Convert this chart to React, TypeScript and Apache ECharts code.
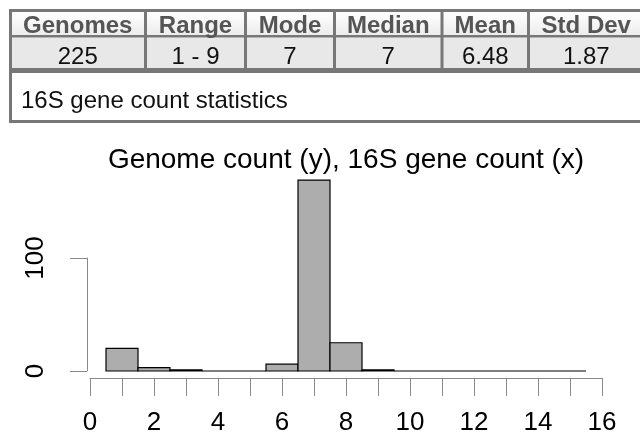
import React, { useEffect, useRef } from "react";
import * as echarts from "echarts";

const geneCounts = [1, 2, 3, 4, 5, 6, 7, 8, 9, 10, 11, 12, 13, 14, 15];
const genomeCounts = [20, 3, 1, 0, 0, 6, 169, 25, 1, 0, 0, 0, 0, 0, 0];
const tableHeaders = ["Genomes", "Range", "Mode", "Median", "Mean", "Std Dev"];
const tableValues = ["225", "1 - 9", "7", "7", "6.48", "1.87"];
const caption = "16S gene count statistics";
const chartTitle = "Genome count (y), 16S gene count (x)";

// column boundaries (px) for the stats table
const colEdges = [10, 145.5, 245.5, 334.5, 442, 528.5, 644];

const FONT = "'Liberation Sans', Arial, Helvetica, sans-serif";

export default function App() {
  const ref = useRef<HTMLDivElement>(null);
  useEffect(() => {
    document.body.style.margin = "0";
    const chart = echarts.init(ref.current!, null, { renderer: "svg" });
    const border = "#777777";
    const graphics: any[] = [];
    graphics.push({ type: "rect", shape: { x: 10.5, y: 10.5, width: 640, height: 111 }, style: { fill: "#ffffff", stroke: border, lineWidth: 3 }, z: 1 });
    graphics.push({ type: "rect", shape: { x: 12, y: 12, width: 640, height: 23 }, style: { fill: new echarts.graphic.LinearGradient(0, 0, 0, 1, [{ offset: 0, color: "#ffffff" }, { offset: 1, color: "#ececec" }]) }, z: 2 });
    graphics.push({ type: "rect", shape: { x: 11, y: 35, width: 640, height: 2.5 }, style: { fill: border }, z: 3 });
    graphics.push({ type: "rect", shape: { x: 12, y: 37.5, width: 640, height: 30.5 }, style: { fill: "#e8e8e8" }, z: 2 });
    graphics.push({ type: "rect", shape: { x: 11, y: 68, width: 640, height: 5 }, style: { fill: border }, z: 3 });
    for (let i = 1; i < colEdges.length - 1; i++) {
      graphics.push({ type: "rect", shape: { x: colEdges[i] - 1.5, y: 10, width: 3, height: 60 }, style: { fill: border }, z: 3 });
    }
    tableHeaders.forEach((h, i) => {
      const cx = (colEdges[i] + colEdges[i + 1]) / 2;
      graphics.push({ type: "text", x: cx, y: 24, z: 4, style: { text: h, font: `bold 24px ${FONT}`, fill: "#555555", align: "center", verticalAlign: "middle" } });
      graphics.push({ type: "text", x: cx, y: 55, z: 4, style: { text: tableValues[i], font: `24px ${FONT}`, fill: "#111111", align: "center", verticalAlign: "middle" } });
    });
    graphics.push({ type: "text", x: 21, y: 99, z: 4, style: { text: caption, font: `24px ${FONT}`, fill: "#111111", align: "left", verticalAlign: "middle" } });
    graphics.push({ type: "text", x: 346, y: 158, z: 4, style: { text: chartTitle, font: `28px ${FONT}`, fill: "#000000", align: "center", verticalAlign: "middle" } });

    const axisColor = "#8a8a8a";
    chart.setOption({
      animation: false,
      grid: { left: 90, right: 38, top: 258, bottom: 73 },
      xAxis: {
        type: "value",
        min: 0,
        max: 16,
        interval: 1,
        offset: 7,
        splitLine: { show: false },
        axisLine: { show: true, onZero: false, lineStyle: { color: axisColor, width: 1 } },
        axisTick: { show: true, length: 18, lineStyle: { color: axisColor } },
        axisLabel: {
          margin: 30,
          fontSize: 26,
          fontFamily: FONT,
          color: "#000",
          formatter: (v: number) => (v % 2 === 0 ? String(v) : ""),
        },
      },
      yAxis: {
        type: "value",
        min: 0,
        max: 100,
        interval: 100,
        offset: 3,
        splitLine: { show: false },
        axisLine: { show: true, onZero: false, lineStyle: { color: axisColor, width: 1 } },
        axisTick: { show: true, length: 17, lineStyle: { color: axisColor } },
        axisLabel: { rotate: 90, margin: 40, fontSize: 26, fontFamily: FONT, color: "#000" },
      },
      graphic: graphics,
      series: [
        {
          type: "custom",
          clip: false,
          data: geneCounts.map((g, i) => [g, genomeCounts[i]]),
          renderItem: (params: any, api: any) => {
            const x = api.value(0);
            const y = api.value(1);
            const p0 = api.coord([x - 0.5, 0]);
            const p1 = api.coord([x + 0.5, y]);
            return {
              type: "polygon",
              shape: { points: [[p0[0], p0[1]], [p1[0], p0[1]], [p1[0], p1[1]], [p0[0], p1[1]]] },
              style: { fill: "#adadad", stroke: "#000000", lineWidth: 1.2 },
            };
          },
        },
      ],
    });
    return () => chart.dispose();
  }, []);
  return <div ref={ref} style={{ position: "fixed", left: 0, top: 0, width: 640, height: 444 }} />;
}
